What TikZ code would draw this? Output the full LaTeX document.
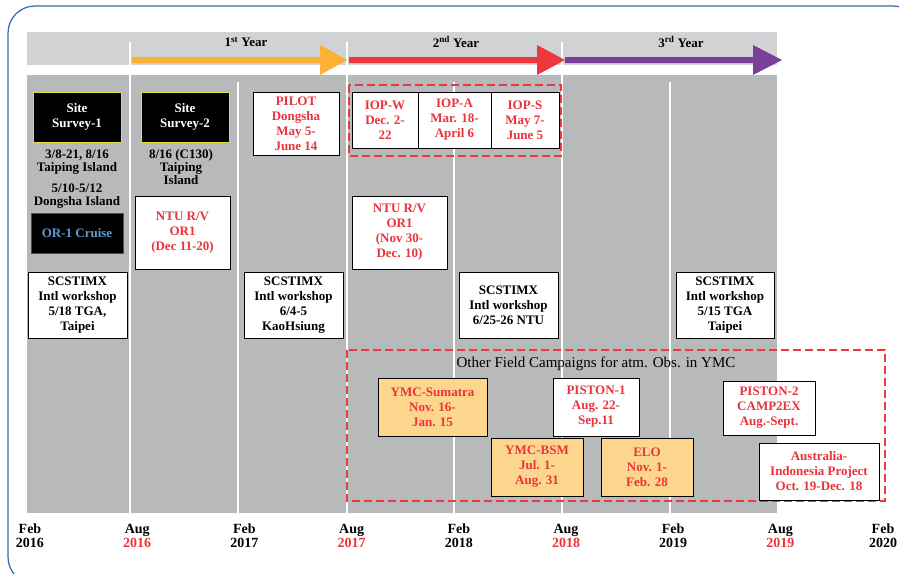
\documentclass[tikz,border=0pt]{standalone}
\usepackage{fontspec}
\setmainfont{Liberation Serif}
\definecolor{frameblue}{RGB}{52,104,175}
\definecolor{bandgray}{RGB}{209,210,212}
\definecolor{maingray}{RGB}{184,185,187}
\definecolor{aorange}{RGB}{250,177,52}
\definecolor{ared}{RGB}{238,56,62}
\definecolor{apurple}{RGB}{122,64,152}
\definecolor{txtred}{RGB}{236,50,58}
\definecolor{boxorange}{RGB}{253,214,142}
\definecolor{orblue}{RGB}{100,150,210}
\definecolor{ssyellow}{RGB}{225,220,60}
\tikzset{
  bfont/.style={font=\fontsize{13}{15}\selectfont\bfseries},
  wbox/.style={bfont, draw=black, line width=1pt, fill=white, align=center, inner sep=0pt},
  rbox/.style={wbox, text=txtred},
  obox/.style={wbox, fill=boxorange, text=txtred},
  blkbox/.style={bfont, fill=black, draw=ssyellow, line width=0.8pt, text=white, align=center, inner sep=0pt},
  vline/.style={draw=white, line width=2pt},
  dashbox/.style={draw=ared, line width=2.5pt, dash pattern=on 8pt off 4pt},
  axislbl/.style={font=\fontsize{14}{14}\selectfont\bfseries, align=center, inner sep=0pt},
  yearlbl/.style={font=\fontsize{13}{15}\selectfont\bfseries, inner sep=0pt},
  plaintxt/.style={font=\fontsize{13}{13}\selectfont\bfseries, align=center, inner sep=0pt}
}
\begin{document}
\begin{tikzpicture}[x=1pt,y=-1pt]
\useasboundingbox (0,0) rectangle (899,573);
\clip (0,0) rectangle (899,573);
% frame
\draw[frameblue, line width=1.2pt, rounded corners=27pt] (8,6) rectangle (920,584);
% gray bands
\fill[bandgray] (27,32) rectangle (777,65);
\fill[maingray] (27,75) rectangle (777,513);
% vertical lines
\foreach \x in {130,347,562} \draw[vline] (\x,42) -- (\x,513);
\foreach \x in {238,454,670} \draw[vline] (\x,82) -- (\x,513);
% year arrows
\fill[aorange] (132,57) -- (320,57) -- (320,45) -- (347,60) -- (320,75) -- (320,63) -- (132,63) -- cycle;
\fill[ared] (349,57) -- (537,57) -- (537,45) -- (565,60) -- (537,75) -- (537,63) -- (349,63) -- cycle;
\fill[apurple] (565,57) -- (753,57) -- (753,45) -- (782,60) -- (753,75) -- (753,63) -- (565,63) -- cycle;
\node[yearlbl] (y1) at (246,42) {1\textsuperscript{st} Year};
\node[yearlbl] (y2) at (456,42) {2\textsuperscript{nd} Year};
\node[yearlbl] (y3) at (681,42) {3\textsuperscript{rd} Year};
% column 1
\node[blkbox, minimum width=88pt, minimum height=50pt] (ss1) at (77,117) {Site\\Survey-1};
\node[plaintxt] (t1) at (77,162) {3/8-21, 8/16\\Taiping Island};
\node[plaintxt] (t2) at (77,196.5) {5/10-5/12\\Dongsha Island};
\node[bfont, fill=black, draw=black!70, line width=0.6pt, text=orblue, minimum width=92pt, minimum height=40pt, inner sep=0pt] (or1) at (77,233) {OR-1 Cruise};
\node[wbox, minimum width=99pt, minimum height=66pt] (sc1) at (77.5,305) {SCSTIMX\\Intl workshop\\5/18 TGA,\\Taipei};
% column 2
\node[blkbox, minimum width=88pt, minimum height=50pt] (ss2) at (185,117) {Site\\Survey-2};
\node[plaintxt] (t3) at (181,167) {8/16 (C130)\\Taiping\\Island};
\node[rbox, minimum width=95pt, minimum height=73pt] (ntu1) at (182.5,232.5) {NTU R/V\\OR1\\(Dec 11-20)};
% column 3
\node[rbox, minimum width=86pt, minimum height=63pt] (pilot) at (296,123.5) {PILOT\\Dongsha\\May 5-\\June 14};
\node[wbox, minimum width=99pt, minimum height=66pt] (sc2) at (293.5,305) {SCSTIMX\\Intl workshop\\6/4-5\\KaoHsiung};
% IOPs
\draw[dashbox] (349,85) rectangle (561,156);
\node[rbox, minimum width=66pt, minimum height=56pt] (iopw) at (385,120) {IOP-W\\Dec. 2-\\22};
\node[rbox, minimum width=73pt, minimum height=56pt] (iopa) at (454.5,120) {IOP-A\\Mar. 18-\\April 6};
\node[rbox, minimum width=68pt, minimum height=56pt] (iops) at (525,120) {IOP-S\\May 7-\\June 5};
\node[rbox, minimum width=95pt, minimum height=73pt] (ntu2) at (399.5,232.5) {NTU R/V\\OR1\\(Nov 30-\\Dec. 10)};
\node[wbox, minimum width=99pt, minimum height=66pt] (sc3) at (508.5,305) {SCSTIMX\\Intl workshop\\6/25-26 NTU};
\node[wbox, minimum width=98pt, minimum height=66pt] (sc4) at (725,305) {SCSTIMX\\Intl workshop\\5/15 TGA\\Taipei};
% other campaigns
\draw[dashbox] (347,350) rectangle (885,501);
\node[font=\fontsize{15}{15}\selectfont, inner sep=0pt] (oth) at (596,364) {Other Field Campaigns for atm. Obs. in YMC};
\node[obox, minimum width=109pt, minimum height=58pt] (sum) at (432.5,407) {YMC-Sumatra\\Nov. 16-\\Jan. 15};
\node[rbox, minimum width=86pt, minimum height=58pt] (p1) at (596,407) {PISTON-1\\Aug. 22-\\Sep.11};
\node[rbox, minimum width=92pt, minimum height=54pt] (p2) at (769,408) {PISTON-2\\CAMP2EX\\Aug.-Sept.};
\node[obox, minimum width=92pt, minimum height=58pt] (bsm) at (537,467) {YMC-BSM\\Jul. 1-\\Aug. 31};
\node[obox, minimum width=92pt, minimum height=58pt] (elo) at (647,467) {ELO\\Nov. 1-\\Feb. 28};
\node[rbox, minimum width=120pt, minimum height=57pt] (aus) at (819,471.5) {Australia-\\Indonesia Project\\Oct. 19-Dec. 18};
% axis labels
\node[axislbl] (a0) at (30,536) {Feb\\2016};
\node[axislbl] (a1) at (137.2,536) {Aug\\\textcolor{txtred}{2016}};
\node[axislbl] (a2) at (244.4,536) {Feb\\2017};
\node[axislbl] (a3) at (351.6,536) {Aug\\\textcolor{txtred}{2017}};
\node[axislbl] (a4) at (458.8,536) {Feb\\2018};
\node[axislbl] (a5) at (566,536) {Aug\\\textcolor{txtred}{2018}};
\node[axislbl] (a6) at (673.2,536) {Feb\\2019};
\node[axislbl] (a7) at (780.4,536) {Aug\\\textcolor{txtred}{2019}};
\node[axislbl] (a8) at (883,536) {Feb\\2020};
\end{tikzpicture}
\end{document}
